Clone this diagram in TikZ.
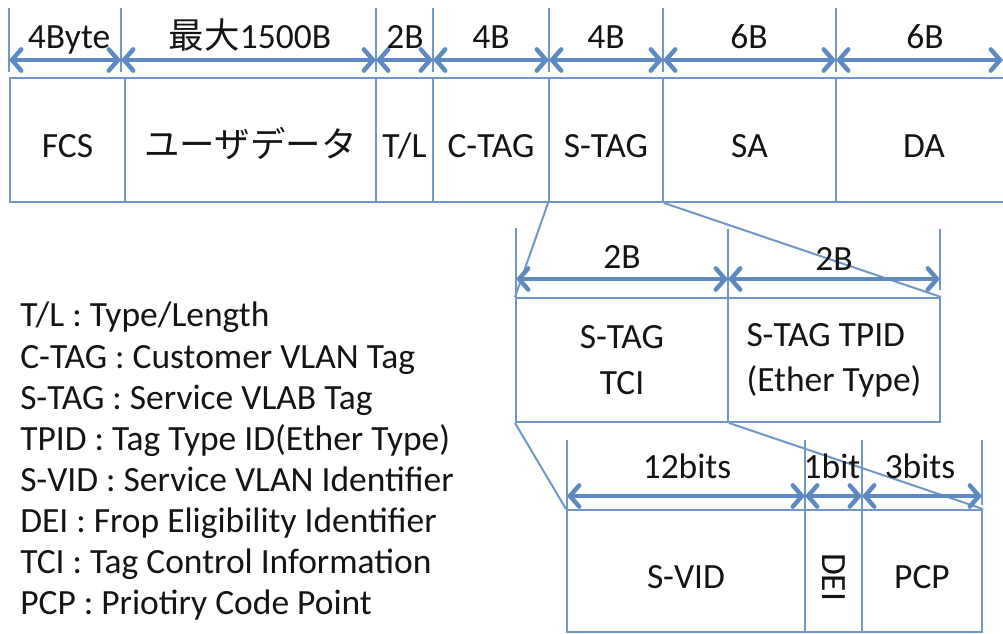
\documentclass[tikz,border=0pt]{standalone}
\usepackage{fontspec}
\usepackage{graphicx}
\setmainfont{Carlito}
\newfontfamily\jpfont{Noto Sans CJK JP}
\usetikzlibrary{arrows.meta}

\definecolor{edge}{HTML}{7097C6}
\definecolor{dimblue}{HTML}{5D8AC1}
\definecolor{ink}{HTML}{141414}

% a field box: name, x1, y1, x2, y2, contents (pixel-like units)
\newcommand\field[6]{%
  \node[cell, minimum width={(#4-#2)*0.75pt}, minimum height={(#5-#3)*0.75pt}]
    (#1) at ({(#2+#4)/2},{(#3+#5)/2}) {#6};}
% a two-line field box (natural centring)
\newcommand\fieldtwo[6]{%
  \node[cell2, minimum width={(#4-#2)*0.75pt}, minimum height={(#5-#3)*0.75pt}]
    (#1) at ({(#2+#4)/2},{(#3+#5)/2}) {#6};}

\begin{document}
\begin{tikzpicture}[x=0.75pt,y=-0.75pt,
  txt/.style={text=ink, font=\fontsize{26.6}{34}\selectfont},
  cell/.style={draw=edge, line width=1.5pt, inner sep=0pt, txt,
    text height=26.3pt, text depth=0pt},
  cell2/.style={draw=edge, line width=1.5pt, inner sep=0pt, txt, align=center},
  tick/.style={draw=edge, line width=2pt},
  dimline/.style={draw=dimblue, line width=3.3pt,
    {Straight Barb[length=7pt,width=16pt,line cap=round]}-{Straight Barb[length=7pt,width=16pt,line cap=round]}},
  proj/.style={draw=edge, line width=1.5pt},
  dimlabel/.style={txt, anchor=base, inner sep=0pt},
  legendline/.style={txt, anchor=base west, inner sep=0pt}]

\useasboundingbox (0,0) rectangle (1003,634);

% ---------- outer frame ----------
\field{fcs}{10}{78}{125}{202}{FCS}
\field{udata}{125}{78}{376}{202}{\jpfont ユーザデータ}
\field{tl}{376}{78}{433}{202}{T/L}
\field{ctag}{433}{78}{549}{202}{C-TAG}
\field{stag}{549}{78}{663}{202}{S-TAG}
\field{sa}{663}{78}{836}{202}{SA}
\field{da}{836}{78}{1012}{202}{DA}

% size ticks of the outer frame
\foreach \n/\x in {a/9,b/121,c/376,d/433,e/549,f/663,g/836}{
  \coordinate (t\n) at (\x,60);
  \draw[tick] (\x,8) -- (\x,72);
}
\coordinate (th) at (1003,60);

\draw[dimline] (ta) -- (tb);
\draw[dimline] (tb) -- (tc);
\draw[dimline] (tc) -- (td);
\draw[dimline] (td) -- (te);
\draw[dimline] (te) -- (tf);
\draw[dimline] (tf) -- (tg);
\draw[dimline] (tg) -- (th);

\node[dimlabel] (l1) at (69,49) {4Byte};
\node[dimlabel] (l2) at (250,49) {\jpfont 最大\normalfont 1500B};
\node[dimlabel] (l3) at (405,49) {2B};
\node[dimlabel] (l4) at (491,49) {4B};
\node[dimlabel] (l5) at (606,49) {4B};
\node[dimlabel] (l6) at (749,49) {6B};
\node[dimlabel] (l7) at (925,49) {6B};

% ---------- S-TAG breakdown ----------
\fieldtwo{tci}{516}{298}{728}{422}{S-TAG\\TCI}
\node[cell2, minimum width={212*0.75pt}, minimum height={124*0.75pt}]
  (tpid) at (834,360)
  {\begin{tabular}{@{}l@{}}S-TAG TPID\\(Ether Type)\end{tabular}};

\draw[proj] (stag.south west) -- (tci.north west);
\draw[proj] (stag.south east) -- (tpid.north east);

\foreach \n/\x/\ya/\yb in {i/516/228/298,j/728/229/298,k/940/229/290}{
  \coordinate (t\n) at (\x,279);
  \draw[tick] (\x,\ya) -- (\x,\yb);
}
\draw[dimline] (ti) -- (tj);
\draw[dimline] (tj) -- (tk);
\node[dimlabel] (m1) at (622,269) {2B};
\node[dimlabel] (m2) at (834,271) {2B};

% ---------- TCI breakdown ----------
\field{svid}{567}{510}{805}{632}{S-VID}
\field{dei}{805}{510}{862}{632}{\rotatebox[origin=c]{-90}{DEI}}
\field{pcp}{862}{510}{982}{632}{PCP}

\draw[proj] (tci.south west) -- (svid.north west);
\draw[proj] (tci.south east) -- (pcp.north east);

\foreach \n/\x/\yb in {p/567/510,q/805/510,r/862/510,s/982/505}{
  \coordinate (t\n) at (\x,496);
  \draw[tick] (\x,440) -- (\x,\yb);
}
\draw[dimline] (tp) -- (tq);
\draw[dimline] (tq) -- (tr);
\draw[dimline] (tr) -- (ts);
\node[dimlabel] (b1) at (687,478) {12bits};
\node[dimlabel] (b2) at (832,478) {1bit};
\node[dimlabel] (b3) at (920,478) {3bits};

% ---------- abbreviations ----------
\foreach \i/\t in {0/{T/L : Type/Length},
                   1/{C-TAG : Customer VLAN Tag},
                   2/{S-TAG : Service VLAB Tag},
                   3/{TPID : Tag Type ID(Ether Type)},
                   4/{S-VID : Service VLAN Identifier},
                   5/{DEI : Frop Eligibility Identifier},
                   6/{TCI : Tag Control Information},
                   7/{PCP : Priotiry Code Point}}{
  \node[legendline] (abbr\i) at (20,{327+41.1*\i}) {\t};
}
\end{tikzpicture}
\end{document}
